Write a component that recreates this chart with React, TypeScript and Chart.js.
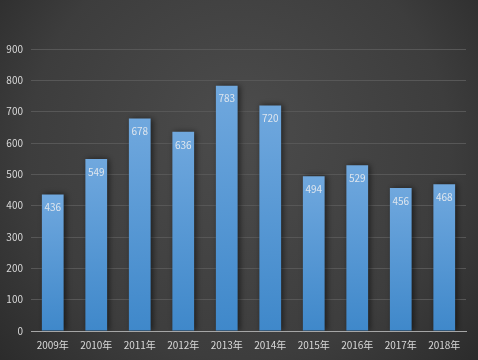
import React, { useEffect, useRef } from "react";
import { Chart, registerables } from "chart.js";

Chart.register(...registerables);

const categories = ["2009年", "2010年", "2011年", "2012年", "2013年", "2014年", "2015年", "2016年", "2017年", "2018年"];
const values = [436, 549, 678, 636, 783, 720, 494, 529, 456, 468];
const yTicks = [0, 100, 200, 300, 400, 500, 600, 700, 800, 900];

const FONT = "'Noto Sans CJK SC', 'Noto Sans', sans-serif";

const bgPlugin = {
  id: "bg",
  beforeDraw(chart: any) {
    const { ctx, width, height } = chart;
    ctx.save();
    const g = ctx.createRadialGradient(width * 0.5, height * 0.35, 10, width * 0.5, height * 0.45, width * 0.72);
    g.addColorStop(0, "#4b4b4b");
    g.addColorStop(0.6, "#3d3d3d");
    g.addColorStop(1, "#262626");
    ctx.fillStyle = g;
    ctx.fillRect(0, 0, width, height);
    ctx.restore();
  },
  beforeDatasetDraw(chart: any) {
    const ctx = chart.ctx;
    ctx.save();
    ctx.shadowColor = "rgba(0,0,0,0.55)";
    ctx.shadowBlur = 6;
    ctx.shadowOffsetX = 2;
    ctx.shadowOffsetY = 0;
  },
  afterDatasetDraw(chart: any) {
    chart.ctx.restore();
  },
  afterDatasetsDraw(chart: any) {
    const { ctx } = chart;
    const meta = chart.getDatasetMeta(0);
    ctx.save();
    ctx.font = `10px ${FONT}`;
    ctx.fillStyle = "#dfe6ee";
    ctx.textAlign = "center";
    ctx.textBaseline = "middle";
    meta.data.forEach((bar: any, i: number) => {
      ctx.fillText(String(values[i]), bar.x, bar.y + 13);
    });
    ctx.restore();
  },
};

export default function App() {
  const ref = useRef<HTMLCanvasElement>(null);
  useEffect(() => {
    document.body.style.margin = "0";
    const chart = new Chart(ref.current!, {
      type: "bar",
      data: {
        labels: categories,
        datasets: [
          {
            data: values,
            backgroundColor: (c: any) => {
              const ch = c.chart;
              const ys = ch.scales && ch.scales.y;
              if (!ys || c.raw == null) return "#5596d5";
              const top = ys.getPixelForValue(c.raw);
              const bottom = ys.getPixelForValue(0);
              if (!isFinite(top) || !isFinite(bottom) || top === bottom) return "#5596d5";
              const g = ch.ctx.createLinearGradient(0, top, 0, bottom);
              g.addColorStop(0, "#70a8de");
              g.addColorStop(1, "#3f88ca");
              return g;
            },
            borderWidth: 0,
            barPercentage: 0.5,
            categoryPercentage: 1,
          },
        ],
      },
      options: {
        animation: false,
        responsive: false,
        maintainAspectRatio: false,
        layout: { padding: { top: 49, right: 12, left: 0, bottom: 0 } },
        plugins: { legend: { display: false }, tooltip: { enabled: false } },
        scales: {
          x: {
            grid: { display: false, drawTicks: false },
            border: { color: "#a6a6a6", width: 1 },
            ticks: { color: "#d9d9d9", font: { family: FONT, size: 10 }, padding: 8, maxRotation: 0 },
            afterFit: (s: any) => { s.height = 29; },
          },
          y: {
            min: 0,
            max: 900,
            afterBuildTicks: (s: any) => { s.ticks = yTicks.map((v) => ({ value: v })); },
            grid: { color: "#575757", lineWidth: 1, drawTicks: false },
            border: { display: false },
            ticks: { color: "#d9d9d9", font: { family: FONT, size: 10 }, padding: 8 },
            afterFit: (s: any) => { s.width = 31; },
          },
        },
      },
      plugins: [bgPlugin],
    });
    return () => chart.destroy();
  }, []);
  return (
    <div style={{ width: 478, height: 360 }}>
      <canvas ref={ref} width={478} height={360} style={{ display: "block" }} />
    </div>
  );
}
